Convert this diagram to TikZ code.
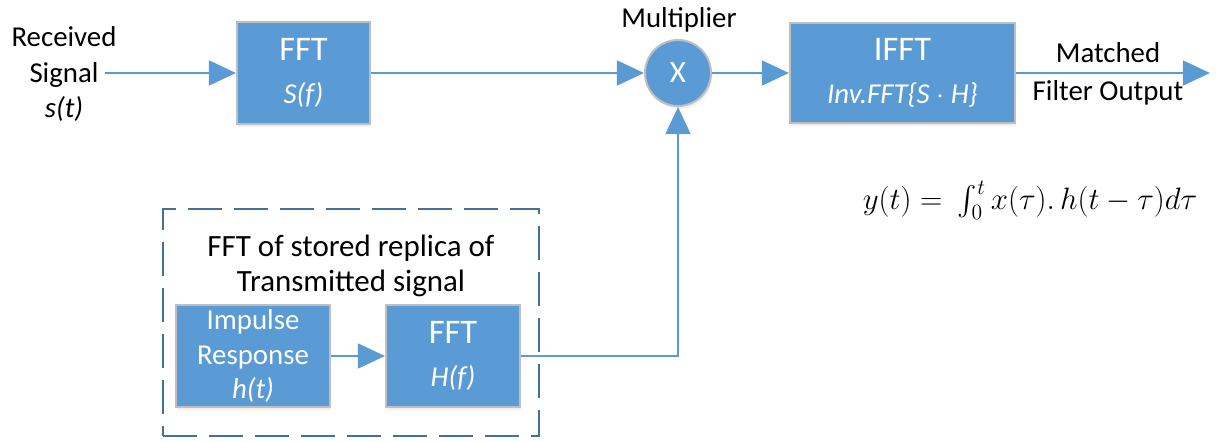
\RequirePackage{fix-cm}
\documentclass[tikz,border=0pt]{standalone}
\usepackage{amsmath}
\usepackage{fontspec}
\setmainfont{Carlito}
\usepackage{tikz}
\usetikzlibrary{positioning}
\usetikzlibrary{arrows.meta}
\usetikzlibrary{shadows}

\definecolor{boxblue}{HTML}{5B9BD5}
\definecolor{dashblue}{HTML}{41719C}
\definecolor{boxgray}{HTML}{BFBFBF}

\newcommand{\blocktitle}[1]{{\fontsize{24.5}{31}\selectfont #1}}

\begin{document}
\begin{tikzpicture}[x=0.025cm,y=-0.025cm,
	>={Triangle[length=0.68cm,width=0.62cm]},
	block/.style={rectangle,draw=boxgray,line width=1.4pt,fill=boxblue,text=white,
		align=center,inner sep=0pt,font=\fontsize{20.5}{31}\selectfont,
		drop shadow={opacity=0.12,shadow xshift=1pt,shadow yshift=-2pt}},
	mult node/.style={circle,draw=boxgray,line width=1.4pt,fill=boxblue,text=white,
		minimum size=1.65cm,inner sep=0pt,font=\fontsize{22}{25}\selectfont,
		drop shadow={opacity=0.12,shadow xshift=1pt,shadow yshift=-2pt}},
	label text/.style={align=center,inner sep=0pt,font=\fontsize{20.5}{25}\selectfont},
	signal/.style={draw=boxblue,line width=2pt},
	group box/.style={rectangle,draw=dashblue,line width=2pt,
		dash pattern=on 0.85cm off 0.3cm}]

	\useasboundingbox (0,0) rectangle (1216,441);

	% upper chain
	\node[label text] (rx) at (64,74) {Received\\Signal\\\textit{s(t)}};
	\coordinate (rxout) at (105,73);
	\node[block,minimum width=3.325cm,minimum height=2.55cm] (ffts) at (303.5,73) {\blocktitle{FFT}\\\textit{S(f)}};
	\node[mult node] (mult) at (678,73) {X};
	\node[label text] (multlbl) at (679,20) {Multiplier};
	\node[block,minimum width=5.625cm,minimum height=2.5cm] (ifft) at (902.5,73) {\blocktitle{IFFT}\\\textit{Inv.FFT\{S $\cdot$ H\}}};
	\coordinate (out) at (1210,73);
	\node[label text,font=\fontsize{20.5}{27}\selectfont] (outlbl) at (1108,74) {Matched\\Filter Output};

	% equation
	\node (eq) at (1030,200) {\fontsize{22}{26}\selectfont $y(t) =\ \int_0^t x(\tau).\,h(t-\tau)d\tau$};

	% stored replica
	\node[group box,minimum width=9.4cm,minimum height=5.675cm] (replica) at (351,322.5) {};
	\node[label text,font=\fontsize{22}{25}\selectfont] (replicalbl) at (351,266) {FFT of stored replica of\\Transmitted signal};
	\node[block,minimum width=3.85cm,minimum height=2.55cm,font=\fontsize{20.5}{24.5}\selectfont] (imp) at (253,356) {Impulse\\Response\\\textit{h(t)}};
	\node[block,minimum width=3.35cm,minimum height=2.55cm] (ffth) at (453,356) {\blocktitle{FFT}\\\textit{H(f)}};

	\draw[signal,->] (rxout) -- (ffts);
	\draw[signal,->] (ffts) -- (mult);
	\draw[signal,->] (mult) -- (ifft);
	\draw[signal,->] (ifft) -- (out);
	\draw[signal,->] (imp) -- (ffth);
	\draw[signal,->] (ffth.east) -| (mult.south);
\end{tikzpicture}
\end{document}
